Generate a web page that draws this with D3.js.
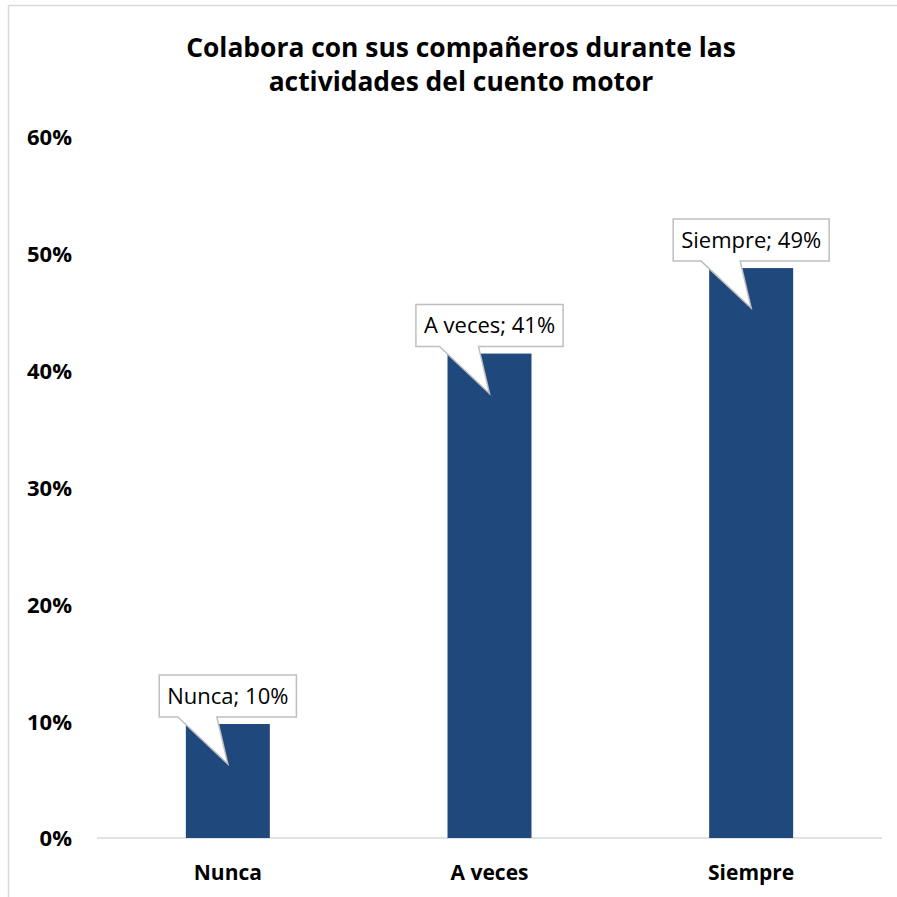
<!DOCTYPE html>
<html>
<head>
<meta charset="utf-8">
<script src="https://cdn.jsdelivr.net/npm/d3@7"></script>
<style>
  html, body { margin: 0; padding: 0; background: #fff; }
  text { font-family: "Open Sans", sans-serif; }
</style>
</head>
<body>
<svg id="chart" width="897" height="897"></svg>
<script>
const titleLines = ["Colabora con sus compañeros durante las", "actividades del cuento motor"];
const categories = ["Nunca", "A veces", "Siempre"];
const values = [4 / 41, 17 / 41, 20 / 41];
const labelTexts = ["Nunca; 10%", "A veces; 41%", "Siempre; 49%"];
const yTicks = [0, 0.1, 0.2, 0.3, 0.4, 0.5, 0.6];

const svg = d3.select("#chart");

// outer chart border
svg.append("rect")
  .attr("x", 8.5).attr("y", 5.5)
  .attr("width", 1000).attr("height", 1000)
  .attr("fill", "#fff").attr("stroke", "#d9d9d9").attr("stroke-width", 1.5);

const y = d3.scaleLinear().domain([0, 0.6]).range([838, 137]);
const x = d3.scaleBand().domain(categories).range([97, 882])
  .paddingInner(0.679).paddingOuter(0.3395);

// title
const title = svg.append("text")
  .attr("text-anchor", "middle")
  .attr("font-weight", "bold")
  .attr("font-size", 26.4)
  .attr("fill", "#000");
titleLines.forEach((t, i) => {
  title.append("tspan").attr("x", 461).attr("y", 57 + i * 34).text(t);
});

// y axis labels
const yAxis = d3.axisLeft(y).tickValues(yTicks).tickFormat(d3.format(".0%")).tickSize(0).tickPadding(0);
const yg = svg.append("g").attr("transform", "translate(72,0)").call(yAxis);
yg.select(".domain").remove();
yg.selectAll("text")
  .attr("font-family", "Open Sans, sans-serif")
  .attr("font-size", 22).attr("font-weight", "bold").attr("fill", "#000")
  .attr("dy", "0.36em");

// baseline
svg.append("line")
  .attr("x1", 97).attr("x2", 882)
  .attr("y1", y(0)).attr("y2", y(0))
  .attr("stroke", "#d9d9d9").attr("stroke-width", 1.5);

// x axis labels
const xAxis = d3.axisBottom(x).tickSize(0).tickPadding(0);
const xg = svg.append("g").attr("transform", `translate(0,${y(0)})`).call(xAxis);
xg.select(".domain").remove();
xg.selectAll("text")
  .attr("font-family", "Open Sans, sans-serif")
  .attr("font-size", 21).attr("font-weight", "bold").attr("fill", "#000")
  .attr("y", 34).attr("dy", "0.36em");

// bars
svg.append("g").selectAll("rect")
  .data(categories)
  .join("rect")
  .attr("x", d => x(d))
  .attr("width", x.bandwidth())
  .attr("y", (d, i) => y(values[i]))
  .attr("height", (d, i) => y(0) - y(values[i]))
  .attr("fill", "#1f497d");

// callout data labels
const lg = svg.append("g");
categories.forEach((c, i) => {
  const cx = x(c) + x.bandwidth() / 2;
  const top = y(values[i]);
  const g = lg.append("g");
  const path = g.append("path");
  const txt = g.append("text")
    .attr("x", cx).attr("text-anchor", "middle")
    .attr("font-size", 22).attr("fill", "#000")
    .text(labelTexts[i]);
  const w = txt.node().getComputedTextLength() + 16;
  const bBottom = top - 7, bTop = top - 49;
  const l = cx - w / 2, r = cx + w / 2;
  txt.attr("y", (bTop + bBottom) / 2).attr("dy", "0.36em");
  const tipY = top + 40;
  path.attr("d", `M${l},${bTop} L${r},${bTop} L${r},${bBottom} L${cx - 11},${bBottom} L${cx},${tipY} L${cx - 50},${bBottom} L${l},${bBottom} Z`)
    .attr("fill", "#fff").attr("stroke", "#bfbfbf").attr("stroke-width", 1.5);
});
</script>
</body>
</html>
